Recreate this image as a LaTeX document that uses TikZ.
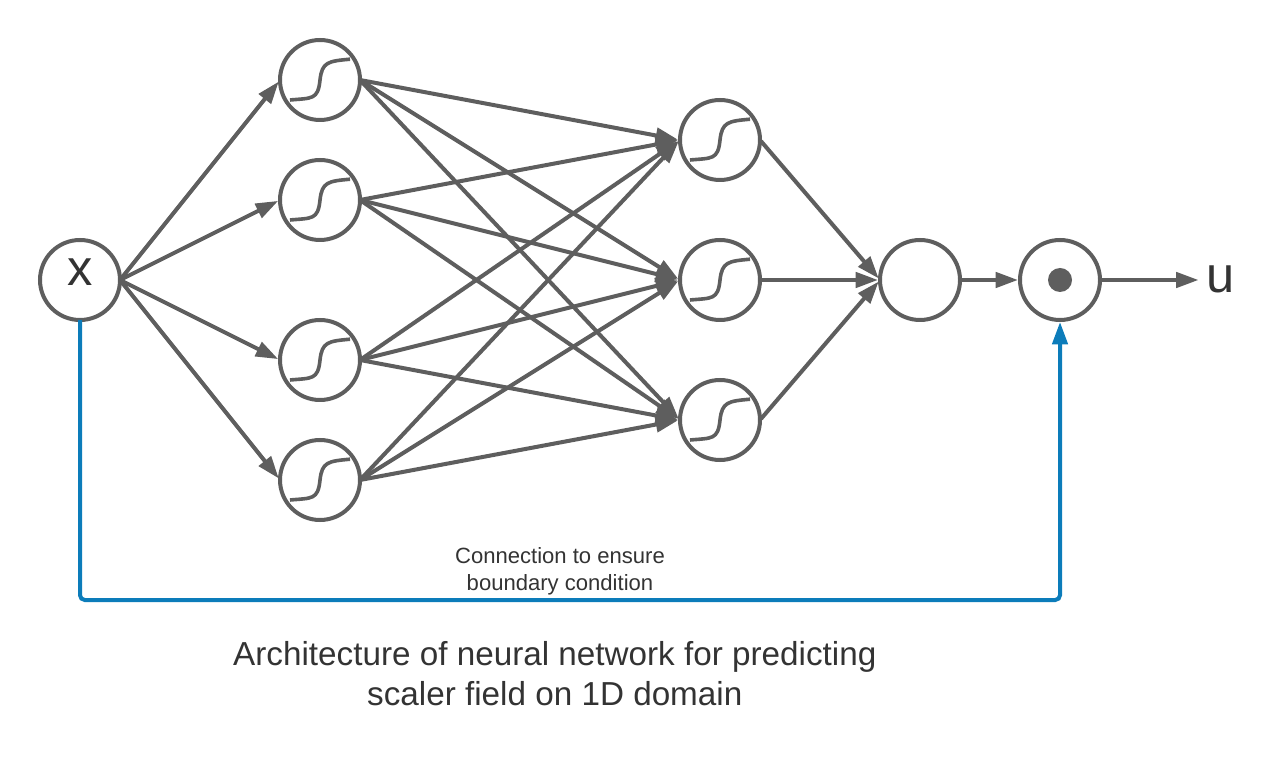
\documentclass[tikz,border=0pt]{standalone}
\usepackage{fontspec}
\setmainfont{Liberation Sans}
\usetikzlibrary{arrows.meta}
\definecolor{netgray}{HTML}{5E5E5E}
\definecolor{linkblue}{HTML}{0C7CBA}
\definecolor{inktext}{HTML}{333333}
\begin{document}
\begin{tikzpicture}[
      neuron/.style={draw=netgray, circle, line width=0.1cm, minimum size=2cm, inner sep=0pt, outer sep=0pt, fill=white},
      sigmoid/.style={neuron, path picture={
        \draw[netgray, line width=0.09cm, shift={(path picture bounding box.center)}]
          (-0.75,-0.5) .. controls (-0.2,-0.45) and (-0.05,-0.5) .. (0,0)
          .. controls (0.05,0.45) and (0.2,0.47) .. (0.75,0.52);}},
      wire/.style={draw=netgray, line width=0.1cm, -{Triangle[length=0.56cm, width=0.38cm]}, shorten >=0.05cm, shorten <=0.04cm},
      bigtext/.style={text=inktext, font=\fontsize{36}{40}\selectfont},
      ]
    \useasboundingbox (0,0) rectangle (32.05,19.425);
    % input
    \node[neuron, bigtext, text depth=0.4cm] (x) at (2,12.425) {x};
    % first hidden layer
    \node[sigmoid] (a1) at (8,17.425) {};
    \node[sigmoid] (a2) at (8,14.425) {};
    \node[sigmoid] (a3) at (8,10.425) {};
    \node[sigmoid] (a4) at (8,7.425) {};
    % second hidden layer
    \node[sigmoid] (b1) at (18,15.925) {};
    \node[sigmoid] (b2) at (18,12.425) {};
    \node[sigmoid] (b3) at (18,8.925) {};
    % output side
    \node[neuron] (sum) at (23,12.425) {};
    \node[neuron] (mult) at (26.5,12.425) {};
    \node[circle, fill=netgray, minimum size=0.6cm, inner sep=0pt] (dot) at (mult) {};
    \node[bigtext, inner sep=0pt, minimum width=1cm, text height=0.62cm] (u) at (30.52,12.425) {u};
    \coordinate (bus) at (26.5,4.425);
    \foreach \i in {1,...,4} {
      \draw[wire] (x.east) -- (a\i.west);
      \foreach \j in {1,2,3} {
        \draw[wire] (a\i.east) -- (b\j.west);
      }
    }
    \foreach \j in {1,2,3} {
      \draw[wire] (b\j.east) -- (sum.west);
    }
    \draw[wire] (sum.east) -- (mult.west);
    \draw[wire] (mult.east) -- (u.west);
    % boundary link
    \draw[wire, draw=linkblue, shorten <=0cm, rounded corners=0.12cm] (x.south) |- (bus) -- (mult.south);
    \node[text=inktext, align=center, font=\fontsize{15.7}{19}\selectfont] (note) at (14,5.15) {Connection to ensure\\boundary condition};
    \node[text=inktext, align=center, font=\fontsize{23.65}{28.3}\selectfont] (title) at (13.87,2.58) {Architecture of neural network for predicting\\scaler field on 1D domain};
\end{tikzpicture}
\end{document}
